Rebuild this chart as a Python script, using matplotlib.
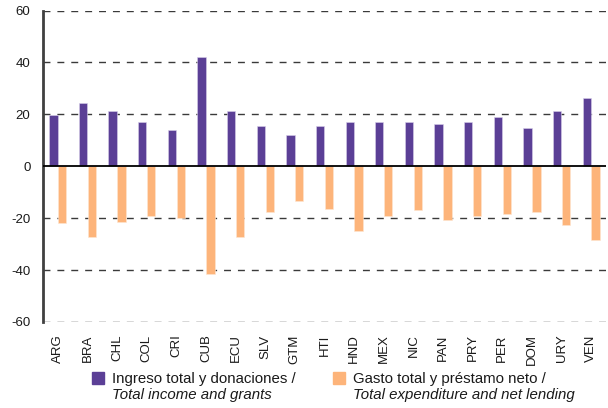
import matplotlib
matplotlib.use("Agg")
import matplotlib.pyplot as plt
import numpy as np
from matplotlib.patches import Rectangle

plt.rcParams['font.family'] = ['Liberation Sans', 'DejaVu Sans']

# datos (% del PIB aprox.)
paises = ['ARG', 'BRA', 'CHL', 'COL', 'CRI', 'CUB', 'ECU', 'SLV', 'GTM', 'HTI',
          'HND', 'MEX', 'NIC', 'PAN', 'PRY', 'PER', 'DOM', 'URY', 'VEN']
ingreso = [19.8, 24.2, 21.3, 17.0, 14.1, 42.3, 21.3, 15.5, 11.9, 15.5,
           17.0, 17.0, 17.0, 16.2, 17.0, 19.1, 14.7, 21.3, 26.4]
gasto = [-22.0, -27.1, -21.3, -19.2, -19.9, -41.6, -27.1, -17.8, -13.4, -16.3,
         -25.0, -19.1, -16.9, -20.6, -19.1, -18.5, -17.7, -22.6, -28.5]

serie1 = 'Ingreso total y donaciones /'
serie1_en = 'Total income and grants'
serie2 = 'Gasto total y préstamo neto /'
serie2_en = 'Total expenditure and net lending'

morado = '#5b3f96'
naranja = '#fdb47a'

W, H = 608, 408
fig = plt.figure(figsize=(W/100, H/100), dpi=100)
ax = fig.add_axes([0.0707, 0.211, 0.926, 0.763])

x = np.arange(len(paises))
ancho = 0.28
ax.bar(x - ancho/2 - 0.01, ingreso, ancho, color=morado, edgecolor='#d8d0ea', linewidth=0.4, zorder=3)
ax.bar(x + ancho/2 + 0.01, gasto, ancho, color=naranja, edgecolor='#fde6d2', linewidth=0.4, zorder=3)

# lineas guia
for y in [60, 40, 20, -20, -40, -60]:
    ax.axhline(y, color='#3a3a3a', lw=1.0, ls=(0, (5, 5)), zorder=1)
ax.axhline(0, color='black', lw=1.3, zorder=4)

ax.set_xlim(-0.5, len(paises) - 0.5)
ax.set_ylim(-60, 60)
ax.set_yticks([60, 40, 20, 0, -20, -40, -60])
ax.set_yticklabels(['60', '40', '20', '0', '-20', '-40', '-60'])
ax.set_xticks(x)
ax.set_xticklabels(paises, rotation=90)
ax.tick_params(axis='both', length=0, labelsize=9.5, colors='#1a1a1a')
ax.tick_params(axis='y', pad=9)
ax.tick_params(axis='x', pad=9)

for s in ['top', 'right', 'bottom']:
    ax.spines[s].set_visible(False)
ax.spines['left'].set_color('#404040')
ax.spines['left'].set_linewidth(2)

# leyenda a mano (cuadro + dos lineas, la segunda en cursiva)
def leyenda(px, color, t1, t2):
    fig.add_artist(Rectangle((px/W, 1 - 384/H), 12/W, 12/H, color=color,
                             transform=fig.transFigure))
    fig.text((px + 20)/W, 1 - 382.7/H, t1, fontsize=10.8, va='baseline', color='#1a1a1a')
    fig.text((px + 20)/W, 1 - 398.5/H, t2, fontsize=10.8, va='baseline',
             style='italic', color='#1a1a1a')

leyenda(91.7, morado, serie1, serie1_en)
leyenda(333.3, naranja, serie2, serie2_en)

fig.savefig('out.png', dpi=100)
